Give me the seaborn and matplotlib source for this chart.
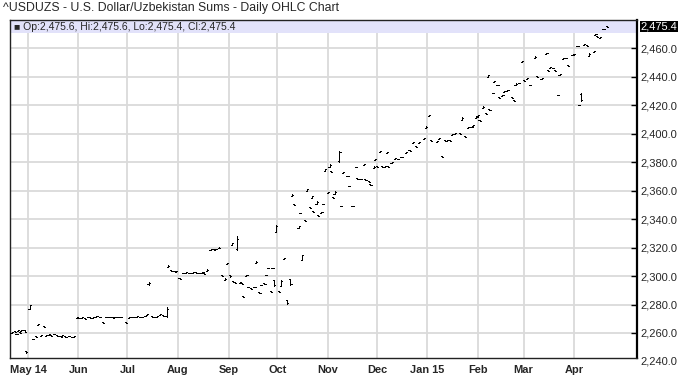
import numpy as np
import pandas as pd
import seaborn as sns
import matplotlib.pyplot as plt
import matplotlib.dates as mdates
from matplotlib.patches import Rectangle

# day offsets from 2014-05-01
days = [-10, -8, -7, -6, -5, -4, -2, -1, 1, 3, 5, 6, 8, 10, 11, 13, 14, 16, 18, 20, 21, 23, 25, 27, 28,
        30, 31, 33, 35, 37, 38, 40, 42, 44, 46, 48, 50, 52, 53, 55, 57, 60, 62, 63, 65, 67, 69, 70, 72, 73,
        74, 76, 77, 79, 81, 83, 85,
        86, 88, 90, 91, 93, 95, 97, 99, 101, 103, 105, 107, 108, 110, 112, 114, 115, 117,
        119, 121, 122, 124, 125, 126, 127, 128, 130, 131, 132, 134, 135, 137, 139, 140, 142, 143, 145,
        146, 147, 149, 150, 151,
        152, 154, 155, 157, 159, 161, 162, 163, 166, 167, 168, 170, 171, 173, 174, 175, 177, 178, 180,
        181, 182,
        184, 185, 186, 187, 188, 191, 192, 193, 196, 197, 199, 201, 202, 204, 206, 207, 209, 210, 212, 213,
        214, 216, 217, 219, 220, 221, 223, 225, 227, 229, 232, 234, 236, 238, 240, 243, 244,
        246, 247, 251, 252, 254, 256, 257, 259, 260, 262, 265, 266, 268, 270, 272, 273, 275,
        276, 277, 279, 281, 282, 283, 285, 286, 288, 289, 291, 292, 294, 297, 298, 299, 301, 303,
        304, 306, 308, 311, 312, 315, 318, 319, 320, 322, 323, 325, 326, 328, 330, 331, 334,
        335, 337, 338, 339, 341, 343, 344, 347, 348, 349, 351, 353, 355]

open_ = [2260.0, 2261.5, 2259.0, 2261.5, 2260.5, 2261.5, 2261.8, 2247.5, 2277.0, 2255.5, 2257.6, 2265.6,
         2258.0, 2264.6, 2258.0, 2258.6, 2258.4, 2259.0, 2258.4, 2258.0, 2258.0, 2257.6, 2257.6, 2257.4, 2257.5,
         2270.6, 2271.0, 2270.6, 2270.5, 2271.0, 2270.9, 2270.6, 2271.5, 2271.4, 2267.5, 2271.0, 2271.4,
         2271.0, 2270.6, 2271.0, 2271.4, 2267.6, 2270.6, 2271.0, 2271.4, 2271.5, 2271.5, 2271.0, 2271.6,
         2272.4, 2294.5, 2271.9, 2271.5, 2271.5, 2272.4, 2272.5, 2272.0,
         2306.5, 2304.0, 2303.5, 2303.0, 2298.6, 2302.0, 2302.5, 2302.5, 2302.5, 2303.0, 2302.5, 2302.5,
         2302.0, 2303.4, 2318.5, 2319.0, 2318.5, 2319.4,
         2300.6, 2297.5, 2308.5, 2300.5, 2322.0, 2296.5, 2295.5, 2319.0, 2295.0, 2295.0, 2286.0, 2300.0,
         2292.5, 2291.5, 2292.0, 2309.0, 2288.6, 2293.5, 2295.0, 2300.4, 2305.5, 2289.6, 2305.5, 2297.0,
         2331.0, 2289.6, 2293.0, 2312.0, 2283.0, 2298.0, 2356.0, 2350.6, 2334.0, 2344.6, 2311.0, 2339.6,
         2360.0, 2348.6, 2355.0, 2345.6, 2351.0, 2342.6, 2344.4, 2350.4, 2374.0,
         2358.4, 2377.0, 2373.6, 2355.6, 2358.0, 2381.0, 2349.6, 2372.4, 2370.6, 2363.6, 2349.6, 2376.4,
         2368.6, 2368.0, 2378.4, 2368.0, 2366.6, 2364.6, 2376.0, 2381.4,
         2377.6, 2387.4, 2377.6, 2377.0, 2386.4, 2377.6, 2379.4, 2382.4, 2382.6, 2383.4, 2386.4, 2388.6,
         2393.4, 2391.6, 2393.4, 2396.4, 2404.0,
         2412.4, 2395.6, 2394.4, 2396.4, 2384.6, 2395.6, 2395.0, 2395.6, 2399.4, 2400.0, 2400.6, 2410.0,
         2398.6, 2404.4, 2404.6, 2405.4, 2411.0,
         2412.4, 2409.6, 2418.0, 2414.6, 2440.0, 2417.6, 2428.4, 2436.4, 2434.6, 2425.6, 2426.4, 2429.4,
         2430.4, 2425.6, 2423.6, 2434.0, 2435.4, 2450.4,
         2437.6, 2438.4, 2434.6, 2453.0, 2440.6, 2438.4, 2456.4, 2444.6, 2446.4, 2446.6, 2444.6, 2427.6,
         2441.4, 2452.4, 2453.6, 2448.6, 2455.4,
         2455.4, 2461.4, 2420.6, 2428.0, 2462.4, 2462.6, 2455.0, 2457.4, 2469.4, 2468.6, 2467.4, 2473.4, 2475.6]

high = [2260.5, 2261.5, 2259.5, 2262.0, 2260.5, 2262.0, 2261.8, 2247.5, 2280.0, 2256.0, 2257.6, 2266.0,
        2258.5, 2264.6, 2258.5, 2259.0, 2258.4, 2259.5, 2258.4, 2258.0, 2258.5, 2257.6, 2258.0, 2257.4, 2258.0,
        2271.0, 2271.0, 2271.0, 2270.5, 2271.5, 2270.9, 2271.0, 2272.0, 2271.4, 2267.5, 2271.5, 2271.4,
        2271.0, 2271.0, 2271.5, 2271.4, 2267.6, 2271.0, 2271.5, 2271.4, 2272.0, 2271.5, 2271.5, 2272.0,
        2273.0, 2295.5, 2271.9, 2271.5, 2272.0, 2273.0, 2272.5, 2278.0,
        2307.5, 2304.0, 2303.5, 2303.5, 2298.6, 2302.5, 2303.0, 2302.5, 2303.0, 2303.0, 2302.5, 2303.0,
        2302.0, 2305.0, 2319.0, 2319.0, 2319.0, 2320.5,
        2300.6, 2298.5, 2309.0, 2301.0, 2323.5, 2296.5, 2295.5, 2328.0, 2295.5, 2295.0, 2286.0, 2301.0,
        2292.5, 2291.5, 2292.5, 2310.5, 2288.6, 2294.0, 2295.0, 2301.0, 2306.0, 2289.6, 2306.0, 2297.5,
        2336.0, 2289.6, 2297.0, 2313.0, 2283.0, 2298.0, 2357.5, 2350.6, 2335.5, 2344.6, 2315.0, 2339.6,
        2361.5, 2348.6, 2356.5, 2345.6, 2352.5, 2342.6, 2345.0, 2351.0, 2375.5,
        2359.0, 2378.5, 2373.6, 2355.6, 2359.5, 2388.0, 2349.6, 2373.0, 2370.6, 2363.6, 2349.6, 2377.0,
        2368.6, 2368.5, 2379.0, 2368.0, 2366.6, 2364.6, 2377.5, 2382.0,
        2377.6, 2388.0, 2377.6, 2377.5, 2387.0, 2377.6, 2380.0, 2383.0, 2382.6, 2384.0, 2387.0, 2388.6,
        2394.0, 2391.6, 2394.0, 2397.0, 2405.5,
        2413.0, 2395.6, 2395.0, 2397.0, 2384.6, 2395.6, 2395.5, 2395.6, 2400.0, 2400.5, 2400.6, 2411.5,
        2398.6, 2405.0, 2405.0, 2406.0, 2412.5,
        2413.0, 2409.6, 2419.5, 2414.6, 2441.5, 2417.6, 2429.0, 2437.0, 2434.6, 2425.6, 2427.0, 2430.0,
        2431.0, 2425.6, 2423.6, 2435.5, 2436.0, 2451.0,
        2437.6, 2439.0, 2434.6, 2454.5, 2440.6, 2439.0, 2457.0, 2444.6, 2447.0, 2446.6, 2444.6, 2427.6,
        2442.0, 2453.0, 2453.6, 2448.6, 2456.0,
        2456.0, 2462.0, 2420.6, 2428.5, 2463.0, 2462.6, 2456.5, 2458.0, 2470.0, 2468.6, 2468.0, 2474.0, 2475.6]

low = [2260.0, 2261.0, 2259.0, 2261.5, 2260.0, 2261.5, 2261.0, 2246.0, 2276.5, 2255.5, 2257.0, 2265.6,
       2258.0, 2264.0, 2258.0, 2258.6, 2258.0, 2259.0, 2258.0, 2257.5, 2258.0, 2257.0, 2257.6, 2257.0, 2257.5,
       2270.6, 2270.5, 2270.6, 2270.0, 2271.0, 2270.5, 2270.6, 2271.5, 2271.0, 2267.0, 2271.0, 2271.0,
       2270.5, 2270.6, 2271.0, 2271.0, 2267.0, 2270.6, 2271.0, 2271.0, 2271.5, 2271.0, 2271.0, 2271.6,
       2272.4, 2294.0, 2271.5, 2271.0, 2271.5, 2272.4, 2272.0, 2271.5,
       2306.5, 2303.5, 2303.0, 2303.0, 2298.0, 2302.0, 2302.5, 2302.0, 2302.5, 2302.5, 2302.0, 2302.5,
       2301.5, 2303.4, 2318.5, 2318.5, 2318.5, 2319.4,
       2300.0, 2297.5, 2308.5, 2299.5, 2322.0, 2296.0, 2295.0, 2318.0, 2295.0, 2294.5, 2285.0, 2300.0,
       2292.0, 2291.0, 2292.0, 2309.0, 2288.0, 2293.5, 2294.5, 2300.4, 2305.5, 2289.0, 2305.5, 2293.0,
       2331.0, 2289.0, 2293.0, 2312.0, 2280.5, 2294.0, 2356.0, 2350.0, 2334.0, 2344.0, 2311.0, 2339.0,
       2360.0, 2348.0, 2355.0, 2345.0, 2351.0, 2342.0, 2344.4, 2350.4, 2374.0,
       2358.4, 2377.0, 2373.0, 2355.0, 2358.0, 2380.0, 2349.0, 2372.4, 2370.0, 2363.0, 2349.0, 2376.4,
       2368.0, 2368.0, 2378.4, 2367.5, 2366.0, 2364.0, 2376.0, 2381.4,
       2377.0, 2387.4, 2377.0, 2377.0, 2386.4, 2377.0, 2379.4, 2382.4, 2382.0, 2383.4, 2386.4, 2388.0,
       2393.4, 2391.0, 2393.4, 2396.4, 2404.0,
       2412.4, 2395.0, 2394.4, 2396.4, 2384.0, 2395.0, 2395.0, 2395.0, 2399.4, 2400.0, 2400.0, 2410.0,
       2398.0, 2404.4, 2404.6, 2405.4, 2411.0,
       2412.4, 2409.0, 2418.0, 2414.0, 2440.0, 2417.0, 2428.4, 2436.4, 2434.0, 2425.0, 2426.4, 2429.4,
       2430.4, 2425.0, 2423.0, 2434.0, 2435.4, 2450.4,
       2437.0, 2438.4, 2434.0, 2453.0, 2440.0, 2438.4, 2456.4, 2444.0, 2446.4, 2446.0, 2444.0, 2427.0,
       2441.4, 2452.4, 2453.0, 2448.0, 2455.4,
       2455.4, 2461.4, 2420.0, 2423.0, 2462.4, 2462.0, 2455.0, 2457.4, 2469.4, 2468.0, 2467.4, 2473.4, 2475.4]

close = [2260.5, 2261.0, 2259.5, 2262.0, 2260.0, 2262.0, 2261.0, 2246.6, 2279.5, 2256.0, 2257.0, 2266.0,
         2258.5, 2264.0, 2258.5, 2259.0, 2258.0, 2259.5, 2258.0, 2257.5, 2258.5, 2257.0, 2258.0, 2257.0, 2258.0,
         2271.0, 2270.5, 2271.0, 2270.0, 2271.5, 2270.5, 2271.0, 2272.0, 2271.0, 2267.0, 2271.5, 2271.0,
         2270.5, 2271.0, 2271.5, 2271.0, 2267.0, 2271.0, 2271.5, 2271.0, 2272.0, 2271.0, 2271.5, 2272.0,
         2273.0, 2295.0, 2271.5, 2271.0, 2272.0, 2273.0, 2272.0, 2277.0,
         2307.0, 2303.5, 2303.0, 2303.5, 2298.0, 2302.5, 2303.0, 2302.0, 2303.0, 2302.5, 2302.0, 2303.0,
         2301.5, 2304.0, 2319.0, 2318.5, 2319.0, 2320.0,
         2300.0, 2298.0, 2309.0, 2300.0, 2323.0, 2296.0, 2295.0, 2326.0, 2295.5, 2294.5, 2285.0, 2301.0,
         2292.0, 2291.0, 2292.5, 2310.0, 2288.0, 2294.0, 2294.5, 2301.0, 2306.0, 2289.0, 2306.0, 2293.5,
         2335.0, 2289.0, 2296.5, 2313.0, 2281.0, 2294.5, 2357.0, 2350.0, 2335.0, 2344.0, 2314.5, 2339.0,
         2361.0, 2348.0, 2356.0, 2345.0, 2352.0, 2342.0, 2345.0, 2351.0, 2375.0,
         2359.0, 2378.0, 2373.0, 2355.0, 2359.0, 2387.0, 2349.0, 2373.0, 2370.0, 2363.0, 2349.0, 2377.0,
         2368.0, 2368.5, 2379.0, 2367.5, 2366.0, 2364.0, 2377.0, 2382.0,
         2377.0, 2388.0, 2377.0, 2377.5, 2387.0, 2377.0, 2380.0, 2383.0, 2382.0, 2384.0, 2387.0, 2388.0,
         2394.0, 2391.0, 2394.0, 2397.0, 2405.0,
         2413.0, 2395.0, 2395.0, 2397.0, 2384.0, 2395.0, 2395.5, 2395.0, 2400.0, 2400.5, 2400.0, 2411.0,
         2398.0, 2405.0, 2405.0, 2406.0, 2412.0,
         2413.0, 2409.0, 2419.0, 2414.0, 2441.0, 2417.0, 2429.0, 2437.0, 2434.0, 2425.0, 2427.0, 2430.0,
         2431.0, 2425.0, 2423.0, 2435.0, 2436.0, 2451.0,
         2437.0, 2439.0, 2434.0, 2454.0, 2440.0, 2439.0, 2457.0, 2444.0, 2447.0, 2446.0, 2444.0, 2427.0,
         2442.0, 2453.0, 2453.0, 2448.0, 2456.0,
         2456.0, 2462.0, 2420.0, 2423.5, 2463.0, 2462.0, 2456.0, 2458.0, 2470.0, 2468.0, 2468.0, 2474.0, 2475.4]

month_starts = ["2014-05-01", "2014-06-01", "2014-07-01", "2014-08-01", "2014-09-01", "2014-10-01",
                "2014-11-01", "2014-12-01", "2015-01-01", "2015-02-01", "2015-03-01", "2015-04-01"]
month_labels = ["May 14", "Jun", "Jul", "Aug", "Sep", "Oct", "Nov", "Dec", "Jan 15", "Feb", "Mar", "Apr"]
y_ticks = [2260, 2280, 2300, 2320, 2340, 2360, 2380, 2400, 2420, 2440, 2460]

title = "^USDUZS - U.S. Dollar/Uzbekistan Sums - Daily OHLC Chart"
legend_txt = "\u25a0 Op:2,475.6, Hi:2,475.6, Lo:2,475.4, Cl:2,475.4"
last_close = close[-1]

start = pd.Timestamp("2014-05-01")
df = pd.DataFrame({"date": start + pd.to_timedelta(days, unit="D"),
                   "open": open_, "high": high, "low": low, "close": close})

sns.set_style("white")
plt.rcParams['font.family'] = ['Liberation Sans', 'DejaVu Sans']

fig = plt.figure(figsize=(6.8, 3.75), dpi=100)
ax = fig.add_axes([10 / 680, 17 / 375, 627 / 680, 338 / 375])

x = mdates.date2num(df["date"])
w = 0.7
ax.vlines(x, df["low"], df["high"], color="black", lw=0.72, antialiased=False, zorder=3)
ax.hlines(df["open"], x - w, x, color="black", lw=0.72, antialiased=False, zorder=3)
ax.hlines(df["close"], x, x + w, color="black", lw=0.72, antialiased=False, zorder=3)

ax.set_xlim(mdates.date2num(start + pd.Timedelta(days=-11)),
            mdates.date2num(start + pd.Timedelta(days=373.5)))
ax.set_ylim(2242.4, 2480.0)

ax.set_xticks(mdates.date2num(pd.to_datetime(month_starts)))
ax.set_xticklabels(month_labels, fontweight="bold", fontsize=7.9)
ax.set_yticks(y_ticks)
ax.set_yticklabels(["{:,.1f}".format(v) for v in y_ticks], fontsize=8)
ax.yaxis.tick_right()
ax.tick_params(axis="x", direction="out", length=3, width=1, color="black", pad=2)
ax.tick_params(axis="y", direction="in", length=4, width=1, color="black", pad=2.5)

ax.grid(True, color="#dadada", lw=1.3)
ax.set_axisbelow(True)
for side, sp in ax.spines.items():
    sp.set_visible(True)
    sp.set_color("#222222")
    sp.set_linewidth(1.0)
ax.spines["right"].set_linewidth(1.6)
ax.spines["right"].set_color("black")

# legend band at top of the plot
band_h = 13 / 338
ax.add_patch(Rectangle((0, 1 - band_h), 1, band_h, transform=ax.transAxes,
                       facecolor="#e2e2fa", edgecolor="none", zorder=1))
ax.text(4 / 627, 1 - band_h / 2, legend_txt, transform=ax.transAxes,
        fontsize=7.5, va="center", ha="left", zorder=4)

# extra labels on the right axis
ax.annotate("2,240.0", xy=(1, 2240), xycoords=("axes fraction", "data"),
            xytext=(2.5, 0), textcoords="offset points", va="center", ha="left",
            fontsize=8, annotation_clip=False)
ax.annotate("{:,.1f}".format(last_close), xy=(1, last_close), xycoords=("axes fraction", "data"),
            xytext=(2.5, 0), textcoords="offset points", va="center", ha="left",
            fontsize=8, color="white", annotation_clip=False,
            bbox=dict(boxstyle="square,pad=0.08", facecolor="black", edgecolor="none"))

fig.text(3 / 680, 1 - 8.5 / 375, title, fontsize=8.8, va="center", ha="left")

fig.savefig("out.png", dpi=100)
